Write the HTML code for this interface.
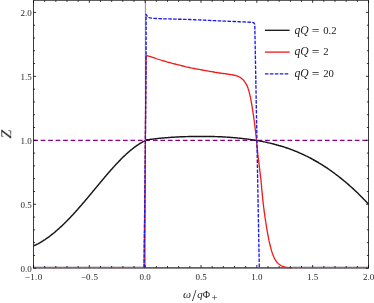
<!DOCTYPE html>
<html><head><meta charset="utf-8"><style>
html,body{margin:0;padding:0;background:#fff;}
svg{display:block;font-family:"Liberation Serif",serif;}
.tl text{font-size:9px;fill:#262626;}
</style></head><body>
<div style="will-change:transform;width:374px;height:303px"><svg width="374" height="303" viewBox="0 0 374 303">
<line x1="145.36999999999998" y1="0.3" x2="145.36999999999998" y2="267.6" stroke="#7c7c7c" stroke-width="0.85"/>
<polyline points="33.2,140.4 368.5,140.4" fill="none" stroke="#8c008c" stroke-width="1.35" stroke-dasharray="4.7 2.78"/>
<polyline points="33.5,245.9 34.3,245.6 35.0,245.2 35.8,244.9 36.5,244.5 37.3,244.1 38.0,243.8 38.8,243.4 39.5,243.0 40.3,242.5 41.0,242.1 41.8,241.7 42.5,241.2 43.3,240.7 44.0,240.2 44.8,239.8 45.5,239.2 46.3,238.7 47.0,238.2 47.8,237.7 48.5,237.1 49.3,236.6 50.0,236.0 50.8,235.4 51.5,234.8 52.3,234.2 53.0,233.6 53.8,233.0 54.5,232.4 55.3,231.8 56.0,231.1 56.8,230.5 57.5,229.8 58.3,229.1 59.0,228.5 59.8,227.8 60.5,227.1 61.3,226.4 62.0,225.7 62.8,224.9 63.5,224.2 64.3,223.5 65.0,222.7 65.8,222.0 66.5,221.2 67.3,220.5 68.0,219.7 68.8,218.9 69.5,218.2 70.3,217.4 71.1,216.6 71.8,215.8 72.6,215.0 73.3,214.2 74.1,213.3 74.8,212.5 75.6,211.7 76.3,210.8 77.1,210.0 77.8,209.2 78.6,208.3 79.3,207.5 80.1,206.6 80.8,205.8 81.6,204.9 82.3,204.0 83.1,203.1 83.8,202.3 84.6,201.4 85.3,200.5 86.1,199.6 86.8,198.7 87.6,197.8 88.3,196.9 89.1,196.0 89.8,195.1 90.6,194.2 91.3,193.3 92.1,192.4 92.8,191.5 93.6,190.6 94.3,189.7 95.1,188.8 95.8,187.9 96.6,187.0 97.3,186.1 98.1,185.2 98.8,184.3 99.6,183.4 100.3,182.5 101.1,181.6 101.8,180.7 102.6,179.8 103.3,178.9 104.1,178.0 104.8,177.1 105.6,176.2 106.3,175.3 107.1,174.4 107.8,173.6 108.6,172.7 109.4,171.8 110.1,171.0 110.9,170.1 111.6,169.3 112.4,168.4 113.1,167.6 113.9,166.8 114.6,165.9 115.4,165.1 116.1,164.3 116.9,163.5 117.6,162.7 118.4,161.9 119.1,161.1 119.9,160.4 120.6,159.6 121.4,158.8 122.1,158.1 122.9,157.3 123.6,156.6 124.4,155.9 125.1,155.2 125.9,154.5 126.6,153.8 127.4,153.1 128.1,152.4 128.9,151.8 129.6,151.1 130.4,150.5 131.1,149.9 131.9,149.3 132.6,148.7 133.4,148.1 134.1,147.5 134.9,146.9 135.6,146.4 136.4,145.9 137.1,145.3 137.9,144.8 138.6,144.3 139.4,143.9 140.1,143.4 140.9,143.0 141.6,142.5 142.4,142.1 143.1,141.7 143.9,141.3 144.6,140.9 145.4,140.6 146.3,140.0 147.2,139.8 148.1,139.7 149.0,139.6 149.9,139.4 150.8,139.3 151.7,139.2 152.6,139.1 153.5,139.0 154.4,138.9 155.3,138.8 156.2,138.7 157.0,138.6 157.9,138.5 158.8,138.4 159.7,138.3 160.6,138.2 161.5,138.1 162.4,138.0 163.3,138.0 164.2,137.9 165.1,137.8 166.0,137.7 166.9,137.7 167.8,137.6 168.7,137.5 169.6,137.4 170.5,137.4 171.4,137.3 172.3,137.3 173.2,137.2 174.1,137.2 175.0,137.1 175.9,137.0 176.8,137.0 177.7,137.0 178.6,136.9 179.4,136.9 180.3,136.8 181.2,136.8 182.1,136.8 183.0,136.7 183.9,136.7 184.8,136.7 185.7,136.6 186.6,136.6 187.5,136.6 188.4,136.5 189.3,136.5 190.2,136.5 191.1,136.5 192.0,136.5 192.9,136.4 193.8,136.4 194.7,136.4 195.6,136.4 196.5,136.4 197.4,136.4 198.3,136.4 199.2,136.4 200.1,136.4 201.0,136.4 201.8,136.4 202.7,136.4 203.6,136.4 204.5,136.4 205.4,136.4 206.3,136.4 207.2,136.4 208.1,136.4 209.0,136.4 209.9,136.4 210.8,136.5 211.7,136.5 212.6,136.5 213.5,136.5 214.4,136.5 215.3,136.6 216.2,136.6 217.1,136.6 218.0,136.7 218.9,136.7 219.8,136.7 220.7,136.8 221.6,136.8 222.5,136.9 223.4,136.9 224.2,137.0 225.1,137.0 226.0,137.1 226.9,137.1 227.8,137.2 228.7,137.2 229.6,137.3 230.5,137.4 231.4,137.4 232.3,137.5 233.2,137.6 234.1,137.7 235.0,137.7 235.9,137.8 236.8,137.9 237.7,138.0 238.6,138.1 239.5,138.2 240.4,138.3 241.3,138.4 242.2,138.5 243.1,138.6 244.0,138.7 244.9,138.8 245.8,138.9 246.6,139.0 247.5,139.1 248.4,139.2 249.3,139.4 250.2,139.5 251.1,139.6 252.0,139.7 252.9,139.9 253.8,140.0 254.7,140.2 255.6,140.3 256.5,140.4 257.4,140.6 258.3,140.8 259.2,140.9 260.1,141.1 261.0,141.2 261.9,141.4 262.8,141.6 263.7,141.8 264.6,141.9 265.5,142.1 266.4,142.3 267.3,142.5 268.1,142.7 269.0,142.9 269.9,143.1 270.8,143.3 271.7,143.6 272.6,143.8 273.5,144.0 274.4,144.2 275.3,144.5 276.2,144.7 277.1,145.0 278.0,145.2 278.9,145.5 279.8,145.7 280.7,146.0 281.6,146.3 282.5,146.5 283.4,146.8 284.3,147.1 285.2,147.4 286.1,147.7 287.0,148.0 287.9,148.3 288.8,148.6 289.7,148.9 290.5,149.3 291.4,149.6 292.3,149.9 293.2,150.3 294.1,150.6 295.0,151.0 295.9,151.3 296.8,151.7 297.7,152.1 298.6,152.5 299.5,152.9 300.4,153.3 301.3,153.7 302.2,154.1 303.1,154.5 304.0,154.9 304.9,155.3 305.8,155.8 306.7,156.2 307.6,156.6 308.5,157.1 309.4,157.6 310.3,158.0 311.2,158.5 312.1,159.0 312.9,159.5 313.8,160.0 314.7,160.5 315.6,161.0 316.5,161.5 317.4,162.0 318.3,162.5 319.2,163.1 320.1,163.6 321.0,164.2 321.9,164.7 322.8,165.3 323.7,165.9 324.6,166.5 325.5,167.0 326.4,167.6 327.3,168.2 328.2,168.8 329.1,169.5 330.0,170.1 330.9,170.7 331.8,171.4 332.7,172.0 333.6,172.7 334.5,173.3 335.3,174.0 336.2,174.7 337.1,175.3 338.0,176.0 338.9,176.7 339.8,177.4 340.7,178.1 341.6,178.9 342.5,179.6 343.4,180.3 344.3,181.1 345.2,181.8 346.1,182.6 347.0,183.3 347.9,184.1 348.8,184.9 349.7,185.7 350.6,186.5 351.5,187.3 352.4,188.1 353.3,188.9 354.2,189.7 355.1,190.6 356.0,191.4 356.9,192.3 357.7,193.1 358.6,194.0 359.5,194.9 360.4,195.8 361.3,196.7 362.2,197.6 363.1,198.5 364.0,199.4 364.9,200.3 365.8,201.2 366.7,202.2 367.6,203.1 368.5,204.1" fill="none" stroke="#161616" stroke-width="1.45" stroke-linejoin="round"/>
<path d="M33.5,267.9H368.5" stroke="#626262" stroke-width="1.6" fill="none"/>
<path d="M33.5,267.15H144M292,267.15H368.5" stroke="#222" stroke-width="0.5" fill="none"/>
<path d="M33.5,267.75H144.05M292,267.75H368.5" stroke="#cf8474" stroke-width="0.85" fill="none"/>
<path d="M33.5,267.75H144.05M259.3,267.75H368.5" stroke="#6a62b8" stroke-width="0.85" fill="none" stroke-dasharray="3.55 1.4"/>
<polyline points="144.1,267.8 144.3,245.0 144.3,243.3 144.3,241.7 144.4,240.0 144.4,238.4 144.4,236.7 144.4,235.1 144.4,233.4 144.5,231.8 144.5,230.1 144.5,228.5 144.5,226.8 144.5,225.2 144.5,223.5 144.6,221.9 144.6,220.2 144.6,218.6 144.6,216.9 144.6,215.3 144.7,213.6 144.7,212.0 144.7,210.3 144.7,208.7 144.7,207.0 144.7,205.4 144.8,203.7 144.8,202.1 144.8,200.4 144.8,198.8 144.8,197.1 144.8,195.5 144.9,193.8 144.9,192.2 144.9,190.5 144.9,188.9 144.9,187.2 145.0,185.6 145.0,183.9 145.0,182.3 145.0,180.6 145.0,179.0 145.0,177.3 145.1,175.7 145.1,174.0 145.1,172.4 145.1,170.7 145.1,169.1 145.1,167.4 145.1,165.8 145.2,164.1 145.2,162.5 145.2,160.8 145.2,159.2 145.2,157.5 145.2,155.9 145.3,154.2 145.3,152.6 145.3,150.9 145.3,149.3 145.3,147.6 145.3,146.0 145.3,144.3 145.4,142.7 145.4,141.0 145.4,139.4 145.4,138.0 145.4,137.7 145.4,136.0 145.4,134.4 145.4,132.7 145.5,131.1 145.5,129.4 145.5,127.8 145.5,126.1 145.5,124.5 145.5,122.8 145.5,121.2 145.5,119.5 145.6,117.9 145.6,116.2 145.6,114.6 145.6,112.9 145.6,111.3 145.6,109.6 145.6,108.0 145.6,106.3 145.7,104.7 145.7,103.0 145.7,101.4 145.7,99.7 145.7,98.1 145.7,96.4 145.7,94.8 145.7,93.1 145.7,91.5 145.8,89.8 145.8,88.2 145.8,86.5 145.8,84.9 145.8,83.2 145.8,81.6 145.8,79.9 145.8,78.3 145.9,76.6 145.9,75.0 145.9,73.3 145.9,71.7 145.9,70.0 145.9,68.4 145.9,66.7 146.0,65.1 146.0,63.4 146.0,61.8 146.0,60.1 146.0,60.0 146.0,58.1 146.0,56.2 146.1,55.5 146.1,55.5 147.5,55.8 149.6,56.3 150.0,56.4 151.2,56.8 152.7,57.3 154.3,57.9 155.8,58.5 157.4,59.0 157.4,59.0 159.0,59.5 160.6,60.0 162.1,60.5 163.7,60.9 165.3,61.4 166.9,61.9 168.5,62.3 170.1,62.7 171.7,63.2 173.3,63.6 174.8,64.0 174.9,64.0 176.5,64.4 178.1,64.8 179.7,65.2 181.3,65.6 182.9,66.0 184.5,66.4 186.1,66.8 187.7,67.1 189.3,67.5 190.9,67.9 192.1,68.1 192.5,68.2 194.1,68.5 195.8,68.8 197.4,69.1 199.0,69.4 200.6,69.7 202.3,70.0 203.9,70.3 205.5,70.6 207.1,70.9 208.8,71.2 209.5,71.3 210.4,71.5 212.0,71.7 213.6,72.0 215.3,72.3 216.9,72.5 218.5,72.8 220.0,73.0 220.2,73.0 221.8,73.3 223.4,73.5 225.1,73.7 226.7,74.0 226.9,74.0 228.3,74.2 230.0,74.5 231.4,74.7 231.6,74.7 233.2,75.0 234.9,75.4 236.5,75.8 237.8,76.2 238.0,76.3 239.5,77.0 240.9,77.9 242.1,78.9 242.2,79.0 243.4,80.1 244.4,81.4 245.3,82.6 245.4,82.7 246.2,84.1 247.0,85.6 247.7,87.2 248.0,88.0 248.2,88.7 248.7,90.2 249.1,91.8 249.5,93.4 249.9,95.1 250.3,96.7 250.6,98.3 250.9,99.9 250.9,99.9 251.2,101.6 251.5,103.2 251.8,104.8 252.1,106.4 252.3,108.1 252.6,109.7 252.8,111.3 252.9,111.8 253.1,113.0 253.3,114.6 253.6,116.2 253.8,117.9 254.0,119.5 254.3,121.1 254.5,122.8 254.7,124.4 254.8,125.6 254.9,126.1 255.1,127.7 255.3,129.3 255.5,131.0 255.7,132.6 255.8,134.3 256.0,135.9 256.2,137.5 256.4,139.2 256.4,139.5 256.5,140.8 256.7,142.5 256.8,144.1 257.0,145.8 257.1,147.4 257.3,149.0 257.4,150.0 257.5,150.7 257.7,152.3 257.8,154.0 258.0,155.6 258.2,157.2 258.4,158.9 258.6,160.5 258.7,161.0 258.8,162.2 259.0,163.8 259.2,165.4 259.4,167.1 259.6,168.7 259.8,170.3 260.0,172.0 260.2,173.6 260.4,175.3 260.6,176.9 260.8,178.5 260.9,179.6 261.0,180.2 261.1,181.8 261.3,183.5 261.4,185.1 261.6,186.8 261.7,188.4 261.9,190.1 262.0,191.7 262.2,193.3 262.3,195.0 262.5,196.5 262.5,196.6 262.7,198.3 262.9,199.9 263.0,201.6 263.2,203.2 263.4,204.8 263.6,206.5 263.7,207.4 263.8,208.1 264.0,209.7 264.2,211.4 264.4,213.0 264.7,214.7 264.9,216.3 265.1,217.9 265.4,219.6 265.4,219.8 265.6,221.2 265.9,222.8 266.1,224.5 266.4,226.1 266.6,227.7 266.9,229.3 267.2,231.0 267.4,232.1 267.5,232.6 267.8,234.2 268.1,235.8 268.4,237.5 268.7,239.1 269.0,240.7 269.4,242.3 269.8,243.9 269.9,244.5 270.2,245.5 270.6,247.1 271.0,248.7 271.4,250.4 271.9,251.9 272.4,253.5 273.0,255.0 273.6,256.5 273.6,256.6 274.3,258.1 275.1,259.5 276.0,261.0 277.0,262.3 277.3,262.6 278.1,263.4 279.4,264.5 280.8,265.5 282.2,266.2 282.2,266.2 283.8,266.7 285.4,267.1 287.1,267.4 287.2,267.4 288.7,267.6 290.3,267.7 292.0,267.8" fill="none" stroke="#f01818" stroke-width="1.3" stroke-linejoin="round"/>
<polyline points="144.1,267.8 144.3,245.0 144.3,243.9 144.3,242.7 144.3,241.6 144.4,240.4 144.4,239.3 144.4,238.1 144.4,237.0 144.4,235.8 144.4,234.7 144.4,233.5 144.4,232.4 144.5,231.2 144.5,230.1 144.5,228.9 144.5,227.8 144.5,226.6 144.5,225.5 144.5,224.4 144.5,223.2 144.6,222.1 144.6,220.9 144.6,219.8 144.6,218.6 144.6,217.5 144.6,216.3 144.6,215.2 144.6,214.0 144.7,212.9 144.7,211.7 144.7,210.6 144.7,209.4 144.7,208.3 144.7,207.1 144.7,206.0 144.7,204.9 144.8,203.7 144.8,202.6 144.8,201.4 144.8,200.3 144.8,199.1 144.8,198.0 144.8,196.8 144.8,195.7 144.9,194.5 144.9,193.4 144.9,192.2 144.9,191.1 144.9,189.9 144.9,188.8 144.9,187.6 144.9,186.5 145.0,185.4 145.0,184.2 145.0,183.1 145.0,181.9 145.0,180.8 145.0,179.6 145.0,178.5 145.0,177.3 145.0,176.2 145.1,175.0 145.1,173.9 145.1,172.7 145.1,171.6 145.1,170.4 145.1,169.3 145.1,168.1 145.1,167.0 145.1,165.9 145.2,164.7 145.2,163.6 145.2,162.4 145.2,161.3 145.2,160.1 145.2,159.0 145.2,157.8 145.2,156.7 145.2,155.5 145.3,154.4 145.3,153.2 145.3,152.1 145.3,150.9 145.3,149.8 145.3,148.6 145.3,147.5 145.3,146.4 145.3,145.2 145.3,144.1 145.4,142.9 145.4,141.8 145.4,140.6 145.4,139.5 145.4,138.3 145.4,138.0 145.4,137.2 145.4,136.0 145.4,134.9 145.4,133.7 145.4,132.6 145.5,131.4 145.5,130.3 145.5,129.1 145.5,128.0 145.5,126.9 145.5,125.7 145.5,124.6 145.5,123.4 145.5,122.3 145.6,121.1 145.6,120.0 145.6,118.8 145.6,117.7 145.6,116.5 145.6,115.4 145.6,114.2 145.6,113.1 145.6,111.9 145.7,110.8 145.7,109.6 145.7,108.5 145.7,107.4 145.7,106.2 145.7,105.1 145.7,103.9 145.7,102.8 145.7,101.6 145.8,100.5 145.8,99.3 145.8,98.2 145.8,97.0 145.8,95.9 145.8,94.7 145.8,93.6 145.8,92.4 145.8,91.3 145.9,90.1 145.9,89.0 145.9,87.9 145.9,86.7 145.9,85.6 145.9,84.4 145.9,83.3 145.9,82.1 145.9,81.0 145.9,79.8 145.9,78.7 145.9,77.5 146.0,76.4 146.0,75.2 146.0,74.1 146.0,72.9 146.0,71.8 146.0,70.6 146.0,69.5 146.0,68.4 146.0,67.2 146.0,66.1 146.0,64.9 146.0,63.8 146.0,62.6 146.0,61.5 146.0,60.3 146.0,59.2 146.0,58.0 146.0,56.9 146.0,55.7 146.1,55.0 146.1,54.6 146.1,53.4 146.1,52.3 146.1,51.1 146.1,50.0 146.1,48.9 146.1,47.7 146.1,46.6 146.1,45.4 146.1,44.3 146.1,43.1 146.1,42.0 146.1,40.8 146.1,39.7 146.1,38.5 146.1,37.4 146.1,36.2 146.1,35.1 146.1,33.9 146.1,32.8 146.1,31.6 146.1,30.5 146.1,29.3 146.1,28.2 146.1,27.1 146.1,25.9 146.1,24.8 146.1,23.6 146.1,22.5 146.1,21.3 146.1,20.2 146.1,19.0 146.1,17.9 146.1,16.7 146.1,16.0 146.1,15.5 146.1,14.3 146.2,14.3 146.5,15.1 146.8,15.6 147.2,16.1 148.1,16.9 148.3,17.0 149.1,17.5 150.0,17.9 150.2,17.9 151.3,18.1 152.4,18.2 153.6,18.3 154.0,18.4 154.7,18.4 155.9,18.5 157.0,18.5 158.2,18.6 159.3,18.6 160.5,18.7 161.6,18.7 162.8,18.7 163.9,18.8 165.0,18.8 166.2,18.8 166.7,18.9 167.3,18.9 168.5,18.9 169.6,18.9 170.8,19.0 171.9,19.0 173.1,19.0 174.2,19.1 175.4,19.1 176.5,19.1 177.7,19.2 178.8,19.2 180.0,19.2 181.1,19.2 182.2,19.3 183.4,19.3 184.5,19.3 185.7,19.4 186.8,19.4 188.0,19.4 189.1,19.5 189.5,19.5 190.3,19.5 191.4,19.6 192.6,19.6 193.7,19.7 194.9,19.7 196.0,19.8 197.2,19.8 198.3,19.9 199.4,19.9 200.6,20.0 201.7,20.0 202.9,20.1 204.0,20.1 205.2,20.2 206.3,20.2 207.5,20.3 208.6,20.3 209.8,20.4 210.9,20.5 212.0,20.5 213.2,20.6 214.3,20.6 215.5,20.7 216.6,20.7 217.8,20.8 218.9,20.9 220.0,20.9 220.1,20.9 221.2,21.0 222.4,21.0 223.5,21.1 224.7,21.1 225.8,21.1 226.9,21.2 228.1,21.2 229.2,21.3 230.4,21.3 231.5,21.4 232.7,21.4 233.8,21.5 235.0,21.5 236.1,21.6 237.3,21.6 238.4,21.7 239.6,21.7 240.7,21.8 241.8,21.8 243.0,21.9 244.1,21.9 245.3,22.0 246.4,22.0 247.6,22.1 248.7,22.2 249.9,22.2 251.0,22.3 251.2,22.3 252.2,22.4 252.6,22.4 253.3,22.6 253.8,22.9 254.2,23.3 254.5,23.9 254.6,24.3 254.8,25.5 259.3,267.8" fill="none" stroke="#1a1aee" stroke-width="1.35" stroke-dasharray="3.55 1.4" stroke-dashoffset="4.76" stroke-linejoin="round"/>
<path d="M33.5,268.4V0.3H368.5V268.4" fill="none" stroke="#222" stroke-width="0.9"/>
<path d="M33.50,267.6v-2.6M33.50,0.3v2.6M44.67,267.6v-1.6M44.67,0.3v1.6M55.83,267.6v-1.6M55.83,0.3v1.6M67.00,267.6v-1.6M67.00,0.3v1.6M78.17,267.6v-1.6M78.17,0.3v1.6M89.33,267.6v-2.6M89.33,0.3v2.6M100.50,267.6v-1.6M100.50,0.3v1.6M111.67,267.6v-1.6M111.67,0.3v1.6M122.84,267.6v-1.6M122.84,0.3v1.6M134.00,267.6v-1.6M134.00,0.3v1.6M145.17,267.6v-2.6M145.17,0.3v2.6M156.34,267.6v-1.6M156.34,0.3v1.6M167.50,267.6v-1.6M167.50,0.3v1.6M178.67,267.6v-1.6M178.67,0.3v1.6M189.84,267.6v-1.6M189.84,0.3v1.6M201.00,267.6v-2.6M201.00,0.3v2.6M212.17,267.6v-1.6M212.17,0.3v1.6M223.34,267.6v-1.6M223.34,0.3v1.6M234.51,267.6v-1.6M234.51,0.3v1.6M245.67,267.6v-1.6M245.67,0.3v1.6M256.84,267.6v-2.6M256.84,0.3v2.6M268.01,267.6v-1.6M268.01,0.3v1.6M279.17,267.6v-1.6M279.17,0.3v1.6M290.34,267.6v-1.6M290.34,0.3v1.6M301.51,267.6v-1.6M301.51,0.3v1.6M312.67,267.6v-2.6M312.67,0.3v2.6M323.84,267.6v-1.6M323.84,0.3v1.6M335.01,267.6v-1.6M335.01,0.3v1.6M346.18,267.6v-1.6M346.18,0.3v1.6M357.34,267.6v-1.6M357.34,0.3v1.6M368.51,267.6v-2.6M368.51,0.3v2.6M33.5,268.20h2.6M368.5,268.20h-2.6M33.5,255.41h1.6M368.5,255.41h-1.6M33.5,242.62h1.6M368.5,242.62h-1.6M33.5,229.83h1.6M368.5,229.83h-1.6M33.5,217.04h1.6M368.5,217.04h-1.6M33.5,204.25h2.6M368.5,204.25h-2.6M33.5,191.46h1.6M368.5,191.46h-1.6M33.5,178.67h1.6M368.5,178.67h-1.6M33.5,165.88h1.6M368.5,165.88h-1.6M33.5,153.09h1.6M368.5,153.09h-1.6M33.5,140.30h2.6M368.5,140.30h-2.6M33.5,127.51h1.6M368.5,127.51h-1.6M33.5,114.72h1.6M368.5,114.72h-1.6M33.5,101.93h1.6M368.5,101.93h-1.6M33.5,89.14h1.6M368.5,89.14h-1.6M33.5,76.35h2.6M368.5,76.35h-2.6M33.5,63.56h1.6M368.5,63.56h-1.6M33.5,50.77h1.6M368.5,50.77h-1.6M33.5,37.98h1.6M368.5,37.98h-1.6M33.5,25.19h1.6M368.5,25.19h-1.6M33.5,12.40h2.6M368.5,12.40h-2.6" stroke="#000" stroke-width="0.8" fill="none"/>
<g class="tl" opacity="0.999"><text x="33.7" y="280.3" text-anchor="middle" letter-spacing="0.35">−1.0</text><text x="89.5" y="280.3" text-anchor="middle" letter-spacing="0.35">−0.5</text><text x="145.2" y="280.3" text-anchor="middle">0.0</text><text x="201.0" y="280.3" text-anchor="middle">0.5</text><text x="256.8" y="280.3" text-anchor="middle">1.0</text><text x="312.7" y="280.3" text-anchor="middle">1.5</text><text x="368.5" y="280.3" text-anchor="middle">2.0</text><text x="31.8" y="271.9" text-anchor="end">0.0</text><text x="31.8" y="208.0" text-anchor="end">0.5</text><text x="31.8" y="144.0" text-anchor="end">1.0</text><text x="31.8" y="80.1" text-anchor="end">1.5</text><text x="31.8" y="16.1" text-anchor="end">2.0</text></g>
<line x1="264.9" y1="30.3" x2="289.6" y2="30.3" stroke="#111" stroke-width="1.3"/>
<line x1="264.9" y1="52.1" x2="289.6" y2="52.1" stroke="#f01818" stroke-width="1.3"/>
<line x1="264.9" y1="73.9" x2="289.6" y2="73.9" stroke="#1a1aee" stroke-width="1.3" stroke-dasharray="3.55 1.4"/>
<g font-size="11px" fill="#222" opacity="0.999">
<g font-size="10.7px"><text y="33.6"><tspan x="294.4" font-style="italic" font-size="11.6px">qQ</tspan><tspan x="311.8" y="34.5" font-size="13.5px">=</tspan><tspan x="323.2" y="33.6">0.2</tspan></text>
<text y="55.4"><tspan x="294.4" font-style="italic" font-size="11.6px">qQ</tspan><tspan x="311.8" y="56.3" font-size="13.5px">=</tspan><tspan x="323.2" y="55.4">2</tspan></text>
<text y="77.2"><tspan x="294.4" font-style="italic" font-size="11.6px">qQ</tspan><tspan x="311.8" y="78.1" font-size="13.5px">=</tspan><tspan x="323.2" y="77.2">20</tspan></text></g>
<text x="182.9" y="297.7" font-style="italic" font-size="11.4px">ω</text>
<text x="192.0" y="300.8" font-size="16px">/</text>
<text x="197.2" y="297.7" font-style="italic" font-size="10.8px">q</text>
<text x="202.7" y="297.7" font-size="10px">Φ</text>
<text x="211.5" y="301.2" font-size="10.6px">+</text>
<text transform="translate(11.0,134.3) rotate(-90) scale(1.2,1.06)" text-anchor="middle" font-style="italic" font-size="13.2px">Z</text>
</g>
</svg></div>
</body></html>
